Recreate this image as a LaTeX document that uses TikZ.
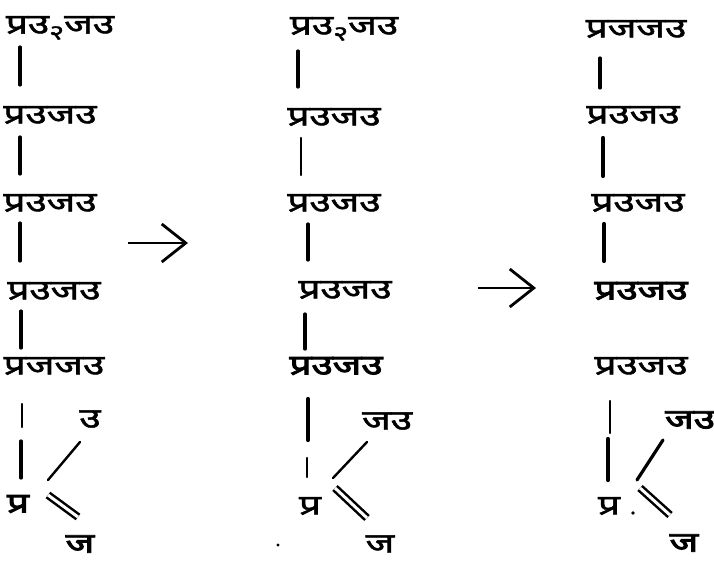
\documentclass[tikz,border=0pt]{standalone}
\usepackage{fontspec}
\usepackage{graphicx}
\newfontfamily\dev[Script=Devanagari,FakeBold=1.5]{Noto Sans}
\newfontfamily\devb[Script=Devanagari,FakeBold=2.8]{Noto Sans}
\usetikzlibrary{arrows.meta}
\newcommand{\widetxt}[1]{\scalebox{1.38}[1]{#1}}
\newcommand{\subtwo}{\raisebox{-6pt}{\fontsize{21}{23}\selectfont २}}
\begin{document}
\begin{tikzpicture}[x=1pt,y=-1pt,
  lbl/.style={inner sep=0pt,yshift=-3pt,font=\dev\fontsize{28}{30}\selectfont},
  blbl/.style={inner sep=0pt,yshift=-3pt,font=\devb\fontsize{28}{30}\selectfont},
  vline/.style={line width=3.2pt,line cap=round},
  bvline/.style={line width=4.2pt,line cap=round},
  tline/.style={line width=2.4pt,line cap=round},
  dbl/.style={double,double distance=3pt,line width=2.5pt,line cap=butt},
  bigarrow/.style={line width=2.8pt,-{Straight Barb[length=24pt,width=38pt,line width=2.8pt]}}]
\useasboundingbox (0,0) rectangle (714,562);
% column 1
\node[lbl] (t11) at (60,25) {\widetxt{प्रउ\subtwo जउ}};
\node[lbl] (t12) at (50,112) {\widetxt{प्रउजउ}};
\node[lbl] (t13) at (50,200) {\widetxt{प्रउजउ}};
\node[lbl] (t14) at (54,288) {\widetxt{प्रउजउ}};
\node[lbl] (t15) at (54,363) {\widetxt{प्रजजउ}};
\node[lbl] (u1) at (90,416) {\widetxt{उ}};
\node[blbl] (p1) at (18,501) {\widetxt{प्र}};
\node[blbl] (j1) at (80,541) {\widetxt{ज}};
\coordinate (a1) at (20,47); \coordinate (b1) at (20,85);
\coordinate (a2) at (20,137); \coordinate (b2) at (20,174);
\coordinate (a3) at (20,223); \coordinate (b3) at (20,261);
\coordinate (a4) at (21,311); \coordinate (b4) at (21,348);
\coordinate (a5) at (22,404); \coordinate (b5) at (22,427);
\coordinate (a6) at (21,441); \coordinate (b6) at (21,478);
\coordinate (s1a) at (48,480); \coordinate (s1b) at (80,442);
\coordinate (d1a) at (48,495); \coordinate (d1b) at (78,517);
\draw[vline] (a1) -- (b1);
\draw[vline] (a2) -- (b2);
\draw[vline] (a3) -- (b3);
\draw[vline] (a4) -- (b4);
\draw[tline] (a5) -- (b5);
\draw[vline] (a6) -- (b6);
\draw[tline] (s1a) -- (s1b);
\draw[dbl] (d1a) -- (d1b);
% arrow 1
\coordinate (r1a) at (128,243); \coordinate (r1b) at (188,243);
\draw[bigarrow] (r1a) -- (r1b);
% column 2
\node[lbl] (t21) at (344,26) {\widetxt{प्रउ\subtwo जउ}};
\node[lbl] (t22) at (334,114) {\widetxt{प्रउजउ}};
\node[lbl] (t23) at (334,200) {\widetxt{प्रउजउ}};
\node[lbl] (t24) at (345,287) {\widetxt{प्रउजउ}};
\node[blbl] (t25) at (336,363) {\widetxt{प्रउजउ}};
\node[lbl] (u2) at (387,418) {\widetxt{जउ}};
\node[lbl] (p2) at (310,503) {\widetxt{प्र}};
\node[lbl] (j2) at (380,541) {\widetxt{ज}};
\node[circle,fill,inner sep=1.1pt] (dot2) at (278,545) {};
\coordinate (c1) at (298,51); \coordinate (e1) at (298,87);
\coordinate (c2) at (301,138); \coordinate (e2) at (301,175);
\coordinate (c3) at (308,224); \coordinate (e3) at (308,260);
\coordinate (c4) at (305,314); \coordinate (e4) at (305,349);
\coordinate (c5) at (308,399); \coordinate (e5) at (308,440);
\coordinate (c6) at (307,458); \coordinate (e6) at (307,477);
\coordinate (s2a) at (333,478); \coordinate (s2b) at (367,442);
\coordinate (d2a) at (335,488); \coordinate (d2b) at (367,518);
\draw[vline] (c1) -- (e1);
\draw[tline] (c2) -- (e2);
\draw[vline] (c3) -- (e3);
\draw[vline] (c4) -- (e4);
\draw[bvline] (c5) -- (e5);
\draw[tline] (c6) -- (e6);
\draw[tline] (s2a) -- (s2b);
\draw[dbl] (d2a) -- (d2b);
% arrow 2
\coordinate (r2a) at (478,288); \coordinate (r2b) at (536,288);
\draw[bigarrow] (r2a) -- (r2b);
% column 3
\node[lbl] (t31) at (636,26) {\widetxt{प्रजजउ}};
\node[lbl] (t32) at (633,112) {\widetxt{प्रउजउ}};
\node[lbl] (t33) at (638,200) {\widetxt{प्रउजउ}};
\node[blbl] (t34) at (641,288) {\widetxt{प्रउजउ}};
\node[lbl] (t35) at (641,363) {\widetxt{प्रउजउ}};
\node[blbl] (u3) at (690,417) {\widetxt{जउ}};
\node[lbl] (p3) at (609,503) {\widetxt{प्र}};
\node[circle,fill,inner sep=1.3pt] (dot3) at (633,513) {};
\node[blbl] (j3) at (684,540) {\widetxt{ज}};
\coordinate (f1) at (600,58); \coordinate (g1) at (600,88);
\coordinate (f2) at (603,138); \coordinate (g2) at (603,176);
\coordinate (f3) at (604,224); \coordinate (g3) at (604,261);
\coordinate (f5) at (610,401); \coordinate (g5) at (610,433);
\coordinate (f6) at (608,439); \coordinate (g6) at (608,480);
\coordinate (s3a) at (637,480); \coordinate (s3b) at (663,440);
\coordinate (d3a) at (640,488); \coordinate (d3b) at (670,515);
\draw[vline] (f1) -- (g1);
\draw[bvline] (f2) -- (g2);
\draw[bvline] (f3) -- (g3);
\draw[tline] (f5) -- (g5);
\draw[bvline] (f6) -- (g6);
\draw[vline] (s3a) -- (s3b);
\draw[dbl] (d3a) -- (d3b);
\end{tikzpicture}
\end{document}
